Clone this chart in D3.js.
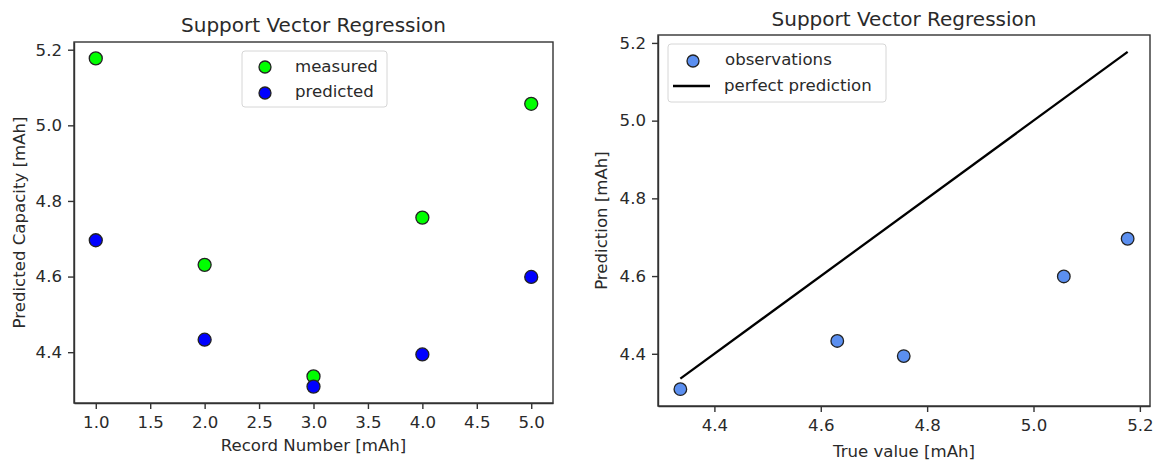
<!DOCTYPE html>
<html lang="en">
<head>
<meta charset="utf-8">
<script src="https://d3js.org/d3.v7.min.js"></script>
<style type="text/css">
body {
	margin: 0;
	background: #fff;
	font-family: "DejaVu Sans", sans-serif;
}
.axis text {
	font-size: 16.6px;
	fill: #2a2a2a;
	font-family: "DejaVu Sans", sans-serif;
}
.axis line, .axis path {
	stroke: #333;
	stroke-width: 1.4;
}
.label {
	font-size: 16.6px;
	fill: #2a2a2a;
}
.title {
	font-size: 20px;
	fill: #2a2a2a;
}
</style>
</head>
<body>
<script type="text/javascript">

// values
var records = [1, 2, 3, 4, 5];
var measured = [5.177, 4.631, 4.336, 4.756, 5.057];
var predicted = [4.696, 4.433, 4.309, 4.394, 4.599];

var recordTicks = [1.0, 1.5, 2.0, 2.5, 3.0, 3.5, 4.0, 4.5, 5.0];
var capTicks = [4.4, 4.6, 4.8, 5.0, 5.2];

var width = 1153;
var height = 463;

var svg = d3.select("body")
	.append("svg")
	.attr("width", width)
	.attr("height", height);

// matplotlib style 5% padding around the data
function padded(ext) {
	var m = (ext[1] - ext[0]) * 0.05;
	return [ext[0] - m, ext[1] + m];
}

var fmt = d3.format(".1f");

function frame(g, x, y, xt, yt) {
	g.append("g")
		.attr("class", "axis")
		.attr("transform", "translate(0," + y.range()[0] + ")")
		.call(d3.axisBottom(x).tickValues(xt).tickFormat(fmt).tickSize(6).tickPadding(7).tickSizeOuter(0));
	g.append("g")
		.attr("class", "axis")
		.attr("transform", "translate(" + x.range()[0] + ",0)")
		.call(d3.axisLeft(y).tickValues(yt).tickFormat(fmt).tickSize(6).tickPadding(6).tickSizeOuter(0));
	g.append("rect")
		.attr("x", x.range()[0])
		.attr("y", y.range()[1])
		.attr("width", x.range()[1] - x.range()[0])
		.attr("height", y.range()[0] - y.range()[1])
		.attr("fill", "none")
		.attr("stroke", "#333")
		.attr("stroke-width", 1.4);
}

var allCap = measured.concat(predicted);

// ---- left panel ----
var x1 = d3.scaleLinear().domain(padded(d3.extent(records))).range([74, 553]);
var y1 = d3.scaleLinear().domain(padded(d3.extent(allCap))).range([403, 42]);

var left = svg.append("g");
frame(left, x1, y1, recordTicks, capTicks);

left.selectAll(".measured")
	.data(records)
	.enter()
	.append("circle")
	.attr("cx", function(d) { return x1(d); })
	.attr("cy", function(d, i) { return y1(measured[i]); })
	.attr("r", 6.5)
	.style("fill", "#00ff00")
	.style("stroke", "#222")
	.style("stroke-width", 1.3);

left.selectAll(".predicted")
	.data(records)
	.enter()
	.append("circle")
	.attr("cx", function(d) { return x1(d); })
	.attr("cy", function(d, i) { return y1(predicted[i]); })
	.attr("r", 6.5)
	.style("fill", "#0000ff")
	.style("stroke", "#222")
	.style("stroke-width", 1.3);

left.append("text")
	.attr("class", "title")
	.attr("x", (74 + 553) / 2)
	.attr("y", 32)
	.attr("text-anchor", "middle")
	.text("Support Vector Regression");

left.append("text")
	.attr("class", "label")
	.attr("x", (74 + 553) / 2)
	.attr("y", 451)
	.attr("text-anchor", "middle")
	.text("Record Number [mAh]");

left.append("text")
	.attr("class", "label")
	.attr("transform", "translate(25," + (42 + 403) / 2 + ") rotate(-90)")
	.attr("text-anchor", "middle")
	.text("Predicted Capacity [mAh]");

// legend
var leg1 = left.append("g");
leg1.append("rect")
	.attr("x", 242).attr("y", 51)
	.attr("width", 145).attr("height", 56)
	.attr("rx", 3)
	.attr("fill", "#fff").attr("fill-opacity", 0.8)
	.attr("stroke", "#d6d6d6");
var legItems1 = [["measured", "#00ff00"], ["predicted", "#0000ff"]];
legItems1.forEach(function(d, i) {
	leg1.append("circle")
		.attr("cx", 265).attr("cy", 67 + i * 26)
		.attr("r", 6)
		.style("fill", d[1]).style("stroke", "#222").style("stroke-width", 1.3);
	leg1.append("text")
		.attr("class", "label")
		.attr("x", 295).attr("y", 72 + i * 25)
		.text(d[0]);
});

// ---- right panel ----
var x2 = d3.scaleLinear().domain(padded(d3.extent(measured))).range([658, 1150]);
var y2 = d3.scaleLinear().domain(padded(d3.extent(allCap))).range([406, 35]);

var right = svg.append("g");
frame(right, x2, y2, capTicks, capTicks);

var perfect = d3.extent(measured);
right.append("path")
	.datum(perfect)
	.attr("d", d3.line().x(function(d) { return x2(d); }).y(function(d) { return y2(d); }))
	.attr("fill", "none")
	.attr("stroke", "#000")
	.attr("stroke-width", 2.3);

right.selectAll(".obs")
	.data(measured)
	.enter()
	.append("circle")
	.attr("cx", function(d) { return x2(d); })
	.attr("cy", function(d, i) { return y2(predicted[i]); })
	.attr("r", 6.3)
	.style("fill", "#5b8ff0")
	.style("stroke", "#222")
	.style("stroke-width", 1.3);

right.append("text")
	.attr("class", "title")
	.attr("x", (658 + 1150) / 2)
	.attr("y", 25.5)
	.attr("text-anchor", "middle")
	.text("Support Vector Regression");

right.append("text")
	.attr("class", "label")
	.attr("x", (658 + 1150) / 2)
	.attr("y", 457)
	.attr("text-anchor", "middle")
	.text("True value [mAh]");

right.append("text")
	.attr("class", "label")
	.attr("transform", "translate(607," + (35 + 406) / 2 + ") rotate(-90)")
	.attr("text-anchor", "middle")
	.text("Prediction [mAh]");

var leg2 = right.append("g");
leg2.append("rect")
	.attr("x", 668).attr("y", 44)
	.attr("width", 218).attr("height", 58)
	.attr("rx", 3)
	.attr("fill", "#fff").attr("fill-opacity", 0.8)
	.attr("stroke", "#d6d6d6");
leg2.append("circle")
	.attr("cx", 693).attr("cy", 61)
	.attr("r", 6)
	.style("fill", "#5b8ff0").style("stroke", "#222").style("stroke-width", 1.3);
leg2.append("text")
	.attr("class", "label")
	.attr("x", 725).attr("y", 65)
	.text("observations");
leg2.append("line")
	.attr("x1", 673).attr("x2", 710)
	.attr("y1", 86).attr("y2", 86)
	.attr("stroke", "#000").attr("stroke-width", 2.3);
leg2.append("text")
	.attr("class", "label")
	.attr("x", 724).attr("y", 91)
	.text("perfect prediction");

</script>
</body>
</html>
